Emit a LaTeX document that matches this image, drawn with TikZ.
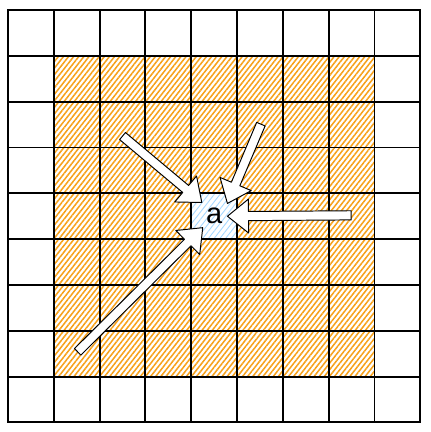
\documentclass[tikz,border=0pt]{standalone}
\usepackage{fontspec}
\setsansfont{Liberation Sans}
\usepackage{tikz}
\usetikzlibrary{calc,patterns.meta}

\definecolor{hatch}{HTML}{F7A11A}
\definecolor{centrehatch}{HTML}{A5D8FF}

% block arrow from #1 to #2
\newcommand\blockarrow[2]{%
  \coordinate (ba-h) at ($(#2)!0.46cm!(#1)$);
  \draw[barrow] ($(#1)!0.1cm!90:(#2)$) -- ($(ba-h)!0.1cm!90:(#2)$)
    -- ($(ba-h)!0.37cm!90:(#2)$) -- (#2) -- ($(ba-h)!0.37cm!-90:(#2)$)
    -- ($(ba-h)!0.1cm!-90:(#2)$) -- ($(#1)!0.1cm!-90:(#2)$) -- cycle;}

\begin{document}
\begin{tikzpicture}[x=1cm, y=-1cm,
  cell/.style={rectangle, draw, line width=1.2pt, minimum size=1cm, inner sep=0pt},
  inner/.style={cell, pattern={Lines[angle=52,distance=2.5pt,line width=0.95pt]}, pattern color=hatch},
  centre/.style={cell, preaction={fill=white}, pattern={Lines[angle=52,distance=2.8pt,line width=0.55pt]}, pattern color=centrehatch,
                 font=\sffamily\fontsize{18}{18}\selectfont},
  barrow/.style={draw, fill=white, line width=0.6pt, line join=round}
]
\useasboundingbox (-0.175,-0.22) rectangle (9.215,9.21);

% outer ring and hatched inner cells
\foreach \i in {0,...,8}
  \foreach \j in {0,...,8} {
    \ifnum\i>0 \ifnum\i<8 \ifnum\j>0 \ifnum\j<8
      \node[inner] (c\i\j) at (\i+0.5,\j+0.5) {};
    \else \node[cell] (c\i\j) at (\i+0.5,\j+0.5) {}; \fi
    \else \node[cell] (c\i\j) at (\i+0.5,\j+0.5) {}; \fi
    \else \node[cell] (c\i\j) at (\i+0.5,\j+0.5) {}; \fi
    \else \node[cell] (c\i\j) at (\i+0.5,\j+0.5) {}; \fi
  }
\node[centre] (a) at (4.5,4.5) {a};

% arrow tails
\coordinate (tnw) at (2.50,2.75);
\coordinate (tne) at (5.52,2.49);
\coordinate (te)  at (7.49,4.48);
\coordinate (tsw) at (1.52,7.46);
% arrow tips
\coordinate (hnw) at ($(a.north west)+(0.24,0.21)$);
\coordinate (hne) at ($(a.north east)+(-0.22,0.23)$);
\coordinate (he)  at ($(a.east)+(-0.22,0)$);
\coordinate (hsw) at ($(a.south west)+(0.26,-0.26)$);

\blockarrow{tnw}{hnw}
\blockarrow{tne}{hne}
\blockarrow{te}{he}
\blockarrow{tsw}{hsw}
\end{tikzpicture}
\end{document}
